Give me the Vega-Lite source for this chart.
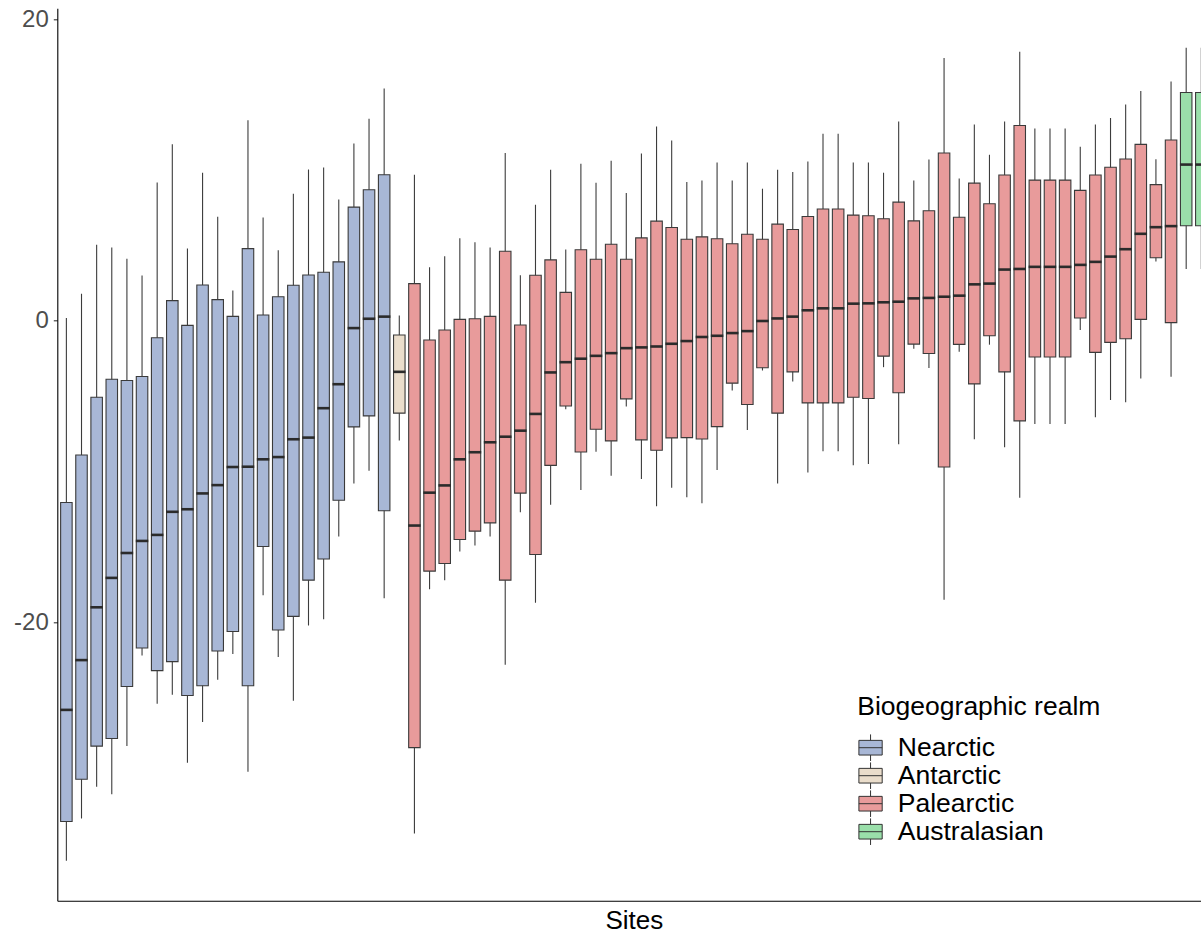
{
  "$schema": "https://vega.github.io/schema/vega-lite/v6.json",
  "width": 1143.7,
  "height": 892.4,
  "autosize": {"type": "none"},
  "padding": {"left": 57.3, "top": 8.3, "right": 0, "bottom": 35.3},
  "background": "white",
  "config": {"view": {"stroke": null}, "font": "Liberation Sans"},
  "data": {"values": [
    {"site": "S01", "realm": "Nearctic", "hi": 0.18, "q3": -12.05, "med": -25.8, "q1": -33.2, "lo": -35.8},
    {"site": "S02", "realm": "Nearctic", "hi": 1.79, "q3": -8.9, "med": -22.5, "q1": -30.4, "lo": -33.0},
    {"site": "S03", "realm": "Nearctic", "hi": 5.03, "q3": -5.07, "med": -19.0, "q1": -28.2, "lo": -30.9},
    {"site": "S04", "realm": "Nearctic", "hi": 4.85, "q3": -3.88, "med": -17.05, "q1": -27.7, "lo": -31.4},
    {"site": "S05", "realm": "Nearctic", "hi": 4.1, "q3": -3.96, "med": -15.4, "q1": -24.25, "lo": -28.2},
    {"site": "S06", "realm": "Nearctic", "hi": 2.99, "q3": -3.7, "med": -14.6, "q1": -21.7, "lo": -22.2},
    {"site": "S07", "realm": "Nearctic", "hi": 9.17, "q3": -1.13, "med": -14.2, "q1": -23.2, "lo": -25.4},
    {"site": "S08", "realm": "Nearctic", "hi": 11.7, "q3": 1.33, "med": -12.67, "q1": -22.6, "lo": -24.8},
    {"site": "S09", "realm": "Nearctic", "hi": 4.78, "q3": -0.31, "med": -12.5, "q1": -24.85, "lo": -29.3},
    {"site": "S10", "realm": "Nearctic", "hi": 9.81, "q3": 2.37, "med": -11.45, "q1": -24.2, "lo": -26.6},
    {"site": "S11", "realm": "Nearctic", "hi": 6.89, "q3": 1.4, "med": -10.9, "q1": -21.9, "lo": -23.8},
    {"site": "S12", "realm": "Nearctic", "hi": 2.01, "q3": 0.29, "med": -9.7, "q1": -20.6, "lo": -22.1},
    {"site": "S13", "realm": "Nearctic", "hi": 13.29, "q3": 4.78, "med": -9.68, "q1": -24.2, "lo": -29.9},
    {"site": "S14", "realm": "Nearctic", "hi": 6.84, "q3": 0.38, "med": -9.19, "q1": -14.97, "lo": -18.2},
    {"site": "S15", "realm": "Nearctic", "hi": 4.67, "q3": 1.59, "med": -9.04, "q1": -20.5, "lo": -22.3},
    {"site": "S16", "realm": "Nearctic", "hi": 8.42, "q3": 2.35, "med": -7.86, "q1": -19.6, "lo": -25.2},
    {"site": "S17", "realm": "Nearctic", "hi": 10.03, "q3": 3.03, "med": -7.75, "q1": -17.2, "lo": -20.2},
    {"site": "S18", "realm": "Nearctic", "hi": 10.15, "q3": 3.21, "med": -5.8, "q1": -15.8, "lo": -19.8},
    {"site": "S19", "realm": "Nearctic", "hi": 8.04, "q3": 3.9, "med": -4.21, "q1": -11.9, "lo": -14.3},
    {"site": "S20", "realm": "Nearctic", "hi": 11.74, "q3": 7.53, "med": -0.49, "q1": -7.04, "lo": -10.8},
    {"site": "S21", "realm": "Nearctic", "hi": 13.38, "q3": 8.68, "med": 0.13, "q1": -6.31, "lo": -9.95},
    {"site": "S22", "realm": "Nearctic", "hi": 15.4, "q3": 9.68, "med": 0.27, "q1": -12.6, "lo": -18.4},
    {"site": "S23", "realm": "Antarctic", "hi": 0.35, "q3": -0.95, "med": -3.39, "q1": -6.13, "lo": -7.95},
    {"site": "S24", "realm": "Palearctic", "hi": 9.68, "q3": 2.46, "med": -13.58, "q1": -28.3, "lo": -34.0},
    {"site": "S25", "realm": "Palearctic", "hi": 3.54, "q3": -1.28, "med": -11.4, "q1": -16.6, "lo": -17.8},
    {"site": "S26", "realm": "Palearctic", "hi": 4.27, "q3": -0.62, "med": -10.92, "q1": -16.1, "lo": -17.2},
    {"site": "S27", "realm": "Palearctic", "hi": 5.47, "q3": 0.09, "med": -9.19, "q1": -14.5, "lo": -15.3},
    {"site": "S28", "realm": "Palearctic", "hi": 5.2, "q3": 0.13, "med": -8.72, "q1": -13.95, "lo": -14.9},
    {"site": "S29", "realm": "Palearctic", "hi": 4.85, "q3": 0.29, "med": -8.06, "q1": -13.4, "lo": -14.3},
    {"site": "S30", "realm": "Palearctic", "hi": 11.12, "q3": 4.6, "med": -7.69, "q1": -17.2, "lo": -22.8},
    {"site": "S31", "realm": "Palearctic", "hi": 3.01, "q3": -0.29, "med": -7.29, "q1": -11.43, "lo": -12.7},
    {"site": "S32", "realm": "Palearctic", "hi": 7.69, "q3": 3.01, "med": -6.18, "q1": -15.5, "lo": -18.7},
    {"site": "S33", "realm": "Palearctic", "hi": 10.01, "q3": 4.03, "med": -3.43, "q1": -9.59, "lo": -12.2},
    {"site": "S34", "realm": "Palearctic", "hi": 4.72, "q3": 1.88, "med": -2.75, "q1": -5.65, "lo": -5.87},
    {"site": "S35", "realm": "Palearctic", "hi": 10.41, "q3": 4.7, "med": -2.52, "q1": -8.7, "lo": -11.23},
    {"site": "S36", "realm": "Palearctic", "hi": 9.15, "q3": 4.07, "med": -2.33, "q1": -7.2, "lo": -8.68},
    {"site": "S37", "realm": "Palearctic", "hi": 10.61, "q3": 5.07, "med": -2.15, "q1": -7.97, "lo": -10.28},
    {"site": "S38", "realm": "Palearctic", "hi": 8.46, "q3": 4.07, "med": -1.82, "q1": -5.18, "lo": -5.69},
    {"site": "S39", "realm": "Palearctic", "hi": 11.08, "q3": 5.49, "med": -1.77, "q1": -7.9, "lo": -10.5},
    {"site": "S40", "realm": "Palearctic", "hi": 12.87, "q3": 6.6, "med": -1.71, "q1": -8.59, "lo": -12.3},
    {"site": "S41", "realm": "Palearctic", "hi": 11.94, "q3": 6.18, "med": -1.53, "q1": -7.77, "lo": -11.07},
    {"site": "S42", "realm": "Palearctic", "hi": 9.19, "q3": 5.4, "med": -1.35, "q1": -7.75, "lo": -11.7},
    {"site": "S43", "realm": "Palearctic", "hi": 9.3, "q3": 5.56, "med": -1.08, "q1": -7.84, "lo": -12.1},
    {"site": "S44", "realm": "Palearctic", "hi": 10.48, "q3": 5.43, "med": -1.0, "q1": -7.02, "lo": -9.9},
    {"site": "S45", "realm": "Palearctic", "hi": 9.3, "q3": 5.1, "med": -0.82, "q1": -4.14, "lo": -4.63},
    {"site": "S46", "realm": "Palearctic", "hi": 10.48, "q3": 5.73, "med": -0.69, "q1": -5.56, "lo": -7.24},
    {"site": "S47", "realm": "Palearctic", "hi": 8.75, "q3": 5.4, "med": -0.02, "q1": -3.12, "lo": -3.3},
    {"site": "S48", "realm": "Palearctic", "hi": 10.01, "q3": 6.4, "med": 0.15, "q1": -6.13, "lo": -10.8},
    {"site": "S49", "realm": "Palearctic", "hi": 9.85, "q3": 6.05, "med": 0.27, "q1": -3.39, "lo": -4.03},
    {"site": "S50", "realm": "Palearctic", "hi": 10.56, "q3": 6.91, "med": 0.69, "q1": -5.45, "lo": -10.06},
    {"site": "S51", "realm": "Palearctic", "hi": 12.4, "q3": 7.4, "med": 0.82, "q1": -5.45, "lo": -8.66},
    {"site": "S52", "realm": "Palearctic", "hi": 12.4, "q3": 7.4, "med": 0.82, "q1": -5.45, "lo": -8.66},
    {"site": "S53", "realm": "Palearctic", "hi": 10.48, "q3": 7.0, "med": 1.13, "q1": -5.07, "lo": -9.59},
    {"site": "S54", "realm": "Palearctic", "hi": 10.48, "q3": 6.96, "med": 1.15, "q1": -5.16, "lo": -9.5},
    {"site": "S55", "realm": "Palearctic", "hi": 9.81, "q3": 6.76, "med": 1.22, "q1": -2.35, "lo": -3.08},
    {"site": "S56", "realm": "Palearctic", "hi": 13.2, "q3": 7.86, "med": 1.26, "q1": -4.78, "lo": -8.19},
    {"site": "S57", "realm": "Palearctic", "hi": 9.3, "q3": 6.62, "med": 1.48, "q1": -1.55, "lo": -1.86},
    {"site": "S58", "realm": "Palearctic", "hi": 10.68, "q3": 7.29, "med": 1.51, "q1": -2.17, "lo": -3.14},
    {"site": "S59", "realm": "Palearctic", "hi": 17.41, "q3": 11.12, "med": 1.59, "q1": -9.7, "lo": -18.5},
    {"site": "S60", "realm": "Palearctic", "hi": 9.42, "q3": 6.86, "med": 1.66, "q1": -1.57, "lo": -2.06},
    {"site": "S61", "realm": "Palearctic", "hi": 13.0, "q3": 9.12, "med": 2.41, "q1": -4.19, "lo": -7.86},
    {"site": "S62", "realm": "Palearctic", "hi": 11.0, "q3": 7.75, "med": 2.46, "q1": -1.0, "lo": -1.59},
    {"site": "S63", "realm": "Palearctic", "hi": 13.2, "q3": 9.66, "med": 3.39, "q1": -3.39, "lo": -8.39},
    {"site": "S64", "realm": "Palearctic", "hi": 17.83, "q3": 12.94, "med": 3.43, "q1": -6.64, "lo": -11.74},
    {"site": "S65", "realm": "Palearctic", "hi": 12.74, "q3": 9.32, "med": 3.57, "q1": -2.41, "lo": -6.84},
    {"site": "S66", "realm": "Palearctic", "hi": 12.74, "q3": 9.32, "med": 3.57, "q1": -2.41, "lo": -6.84},
    {"site": "S67", "realm": "Palearctic", "hi": 12.74, "q3": 9.32, "med": 3.57, "q1": -2.41, "lo": -6.84},
    {"site": "S68", "realm": "Palearctic", "hi": 11.54, "q3": 8.64, "med": 3.7, "q1": 0.18, "lo": -0.62},
    {"site": "S69", "realm": "Palearctic", "hi": 13.0, "q3": 9.66, "med": 3.9, "q1": -2.1, "lo": -6.4},
    {"site": "S70", "realm": "Palearctic", "hi": 13.44, "q3": 10.17, "med": 4.25, "q1": -1.44, "lo": -5.25},
    {"site": "S71", "realm": "Palearctic", "hi": 14.33, "q3": 10.72, "med": 4.74, "q1": -1.2, "lo": -5.4},
    {"site": "S72", "realm": "Palearctic", "hi": 15.22, "q3": 11.69, "med": 5.76, "q1": 0.09, "lo": -3.83},
    {"site": "S73", "realm": "Palearctic", "hi": 10.7, "q3": 9.02, "med": 6.2, "q1": 4.17, "lo": 3.92},
    {"site": "S74", "realm": "Palearctic", "hi": 15.86, "q3": 11.98, "med": 6.27, "q1": -0.13, "lo": -3.72},
    {"site": "S75", "realm": "Australasian", "hi": 18.1, "q3": 15.13, "med": 10.35, "q1": 6.29, "lo": 3.43},
    {"site": "S76", "realm": "Australasian", "hi": 18.1, "q3": 15.13, "med": 10.35, "q1": 6.29, "lo": 3.43}
  ]},
  "encoding": {
    "x": {
      "field": "site", "type": "ordinal", "sort": null,
      "scale": {"type": "band", "range": [0, 1153.1], "paddingInner": 0, "paddingOuter": 0.1},
      "axis": {"title": "Sites", "labels": false, "ticks": false, "domainColor": "#000000", "domainWidth": 1.1,
               "titleFontSize": 26, "titleFontWeight": "normal", "titleColor": "#000000", "titlePadding": 7, "titleX": 576.6}
    }
  },
  "layer": [
    {
      "mark": {"type": "rule", "color": "#3c3c3c", "strokeWidth": 1.1},
      "encoding": {
        "y": {"field": "lo", "type": "quantitative",
              "scale": {"domain": [-38.45, 20.71], "nice": false, "zero": false},
              "axis": {"values": [-20, 0, 20], "grid": false, "title": null, "labelFontSize": 24, "labelColor": "#4D4D4D",
                       "labelExpr": "replace(datum.label, '\u2212', '-')",
                       "tickColor": "#333333", "tickSize": 4, "tickWidth": 1.1, "labelPadding": 5, "domainColor": "#000000", "domainWidth": 1.1}},
        "y2": {"field": "hi"}
      }
    },
    {
      "mark": {"type": "bar", "size": 11.5, "stroke": "#3a3a3a", "strokeWidth": 1.1, "opacity": 1},
      "encoding": {
        "y": {"field": "q1", "type": "quantitative"},
        "y2": {"field": "q3"},
        "fill": {
          "field": "realm", "type": "nominal",
          "scale": {"domain": ["Nearctic", "Antarctic", "Palearctic", "Australasian"],
                    "range": ["#A8B7D6", "#EADDCB", "#E89B9B", "#9ADFAA"]},
          "legend": {
            "title": "Biogeographic realm", "orient": "none", "legendX": 800, "legendY": 686,
            "titleFontSize": 26.5, "titleFontWeight": "normal", "titleColor": "#000000", "titleLimit": 500,
            "labelFontSize": 26.5, "labelColor": "#000000", "labelLimit": 500,
            "symbolType": "M-1,-0.63H1V0.63H-1Z M-1,0H1 M0,-1.14V-0.63 M0,0.63V1.14",
            "symbolSize": 543, "symbolStrokeColor": "#333333", "symbolStrokeWidth": 1, "symbolOpacity": 1,
            "labelOffset": 14, "rowPadding": 0, "clipHeight": 27.8, "titlePadding": 13, "padding": 0
          }
        }
      }
    },
    {
      "mark": {"type": "tick", "color": "#2b2b2b", "thickness": 2.6, "size": 12.5, "opacity": 1},
      "encoding": {"y": {"field": "med", "type": "quantitative"}}
    }
  ]
}
